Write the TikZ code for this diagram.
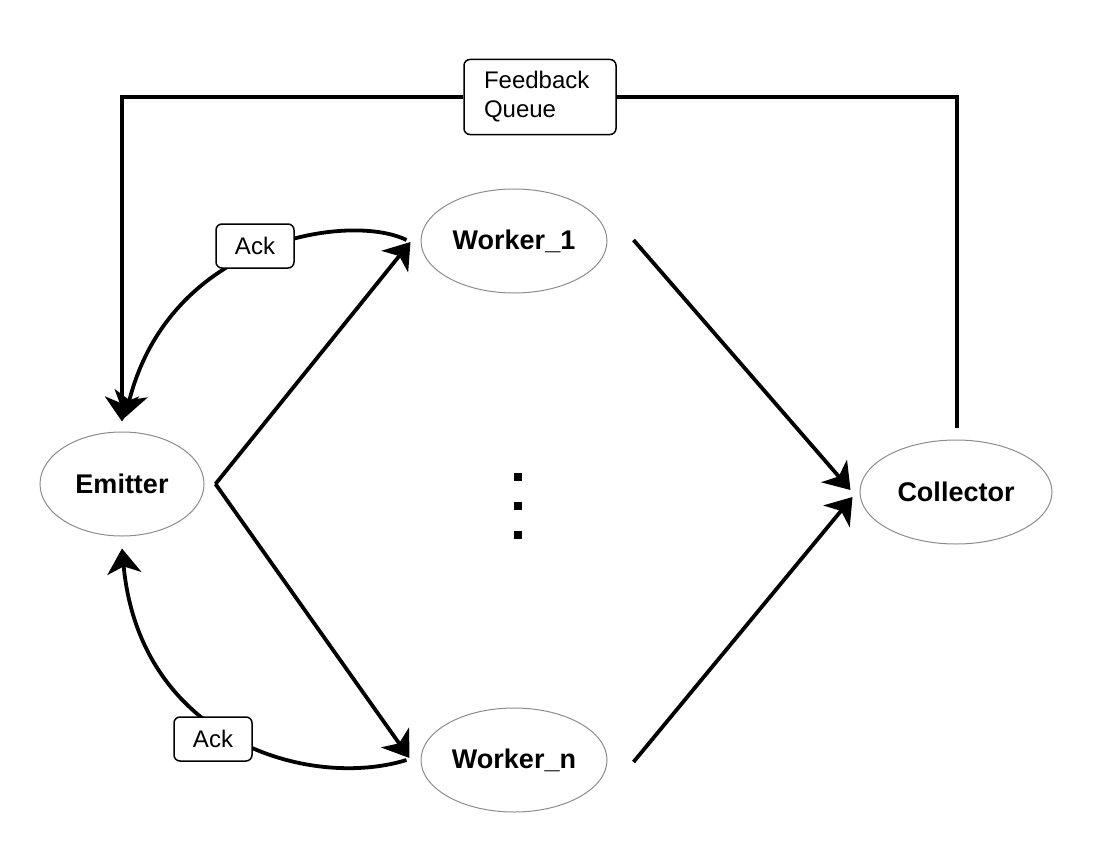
\documentclass[tikz,border=0pt]{standalone}
\usepackage{fontspec}
\setmainfont{Liberation Sans}
\usetikzlibrary{shapes.geometric,arrows.meta,calc}
\begin{document}
\begin{tikzpicture}[x=1pt,y=-1pt,
  proc/.style={ellipse,draw=black!45,line width=1pt,inner sep=0pt,
    font=\fontsize{27}{32}\selectfont\bfseries},
  lbl/.style={draw=black,line width=1.5pt,rounded corners=6pt,fill=white,
    font=\fontsize{24}{29}\selectfont,inner sep=0pt},
  conn/.style={line width=3.8pt,-{Stealth[length=25pt,width=34pt,inset=7pt]}},
  plain/.style={line width=3.8pt}]
\useasboundingbox (0,0) rectangle (1094,856);
% nodes
\node[proc,minimum width=164pt,minimum height=104pt] (emitter) at (122,484) {Emitter};
\node[proc,minimum width=186pt,minimum height=104pt] (w1) at (514,241) {Worker\_1};
\node[proc,minimum width=186pt,minimum height=104pt] (wn) at (514,760) {Worker\_n};
\node[proc,minimum width=192pt,minimum height=104pt] (coll) at (956,492) {Collector};
% vertical dots
\foreach \yy in {473,502,531}
  \fill (514,\yy) rectangle (522,\yy+8);
% main connectors
\draw[conn] ($(emitter.east)+(11,0)$) -- ($(w1.west)+(-10,1)$);
\draw[conn] ($(emitter.east)+(11,0)$) -- ($(wn.west)+(-11,-2)$);
\draw[conn] ($(w1.east)+(26,-1)$) -- ($(coll.west)+(-9,-2)$);
\draw[conn] ($(wn.east)+(26,2)$) -- ($(coll.west)+(-7,5)$);
% feedback loop
\node[lbl,minimum height=75pt,text width=112pt,inner xsep=20pt,align=left] (fq) at (540,97) {Feedback\\Queue};
\draw[plain] ($(coll.north)+(1,-12)$) |- (fq.east);
\draw[conn] (fq.west) -| ($(emitter.north)+(0,-10)$);
% ack curves
\draw[conn] ($(w1.west)+(-14,-1)$) .. controls +(-57,-28) and +(45,-178) .. ($(emitter.north)+(3,-14)$);
\draw[conn] ($(wn.west)+(-14,0)$) .. controls +(-97,30) and +(18,192) .. ($(emitter.south)+(0,12)$);
\node[lbl,minimum width=78pt,minimum height=44pt] (ack1) at (255,246) {Ack};
\node[lbl,minimum width=78pt,minimum height=44pt] (ack2) at (213,739) {Ack};
\end{tikzpicture}
\end{document}
